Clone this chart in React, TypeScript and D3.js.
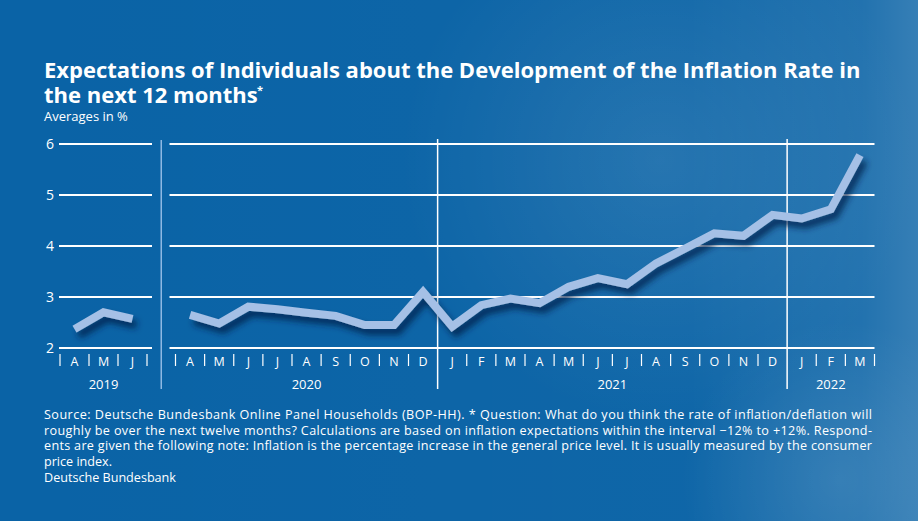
import React from 'react';
import * as d3 from 'd3';

const months2019 = ['A', 'M', 'J'];
const values2019 = [2.37, 2.7, 2.57];

const monthsMain = ['A', 'M', 'J', 'J', 'A', 'S', 'O', 'N', 'D', 'J', 'F', 'M', 'A', 'M', 'J', 'J', 'A', 'S', 'O', 'N', 'D', 'J', 'F', 'M'];
const valuesMain = [2.65, 2.48, 2.81, 2.76, 2.69, 2.63, 2.45, 2.45, 3.1, 2.42, 2.84, 2.97, 2.88, 3.2, 3.37, 3.25, 3.66, 3.95, 4.25, 4.2, 4.61, 4.54, 4.72, 5.78];

// year label, first and last month index in the main segment
const yearsMain: [string, number, number][] = [['2020', 0, 8], ['2021', 9, 20], ['2022', 21, 23]];
const year2019 = '2019';
const yTicks = [2, 3, 4, 5, 6];

const footer = [
  'Source: Deutsche Bundesbank Online Panel Households (BOP-HH). * Question: What do you think the rate of inflation/deflation will',
  'roughly be over the next twelve months? Calculations are based on inflation expectations within the interval \u221212% to +12%. Respond-',
  'ents are given the following note: Inflation is the percentage increase in the general price level. It is usually measured by the consumer',
  'price index.',
];

const W = 918;
const H = 521;
const font = '"Open Sans", "DejaVu Sans", sans-serif';
const lineColor = '#a5c0e6';

const App: React.FC = () => {
  const y = d3.scaleLinear().domain([2, 6]).range([348, 144]);
  const x19 = d3.scaleLinear().domain([-0.5, 2.5]).range([60, 147]);
  const xm = d3.scaleLinear().domain([-0.5, 23.5]).range([175.5, 874.5]);

  const path19 = d3.line<number>().x((_, i) => x19(i)).y(d => y(d))(values2019)!;
  const pathMain = d3.line<number>().x((_, i) => xm(i)).y(d => y(d))(valuesMain)!;

  const sep0 = (x19(2.5) + xm(-0.5)) / 2;
  const seps = [xm(8.5), xm(20.5)];
  const ticksMain = d3.range(-0.5, 24, 1).filter(t => t !== 8.5 && t !== 20.5);
  const ticks19 = d3.range(-0.5, 3, 1);

  return (
    <svg width={W} height={H} style={{ position: 'absolute', left: 0, top: 0, display: 'block' }} fontFamily={font}>
      <defs>
        <linearGradient id="bgH" x1="0" x2="1" y1="0" y2="0">
          <stop offset="0" stopColor="#ffffff" stopOpacity={0} />
          <stop offset="0.75" stopColor="#ffffff" stopOpacity={0.02} />
          <stop offset="0.94" stopColor="#ffffff" stopOpacity={0.1} />
          <stop offset="1" stopColor="#ffffff" stopOpacity={0.18} />
        </linearGradient>
        <radialGradient id="glow" cx="660" cy="160" r="260" gradientUnits="userSpaceOnUse">
          <stop offset="0" stopColor="#ffffff" stopOpacity={0.1} />
          <stop offset="1" stopColor="#ffffff" stopOpacity={0} />
        </radialGradient>
        <radialGradient id="glow2" cx="840" cy="480" r="160" gradientUnits="userSpaceOnUse">
          <stop offset="0" stopColor="#ffffff" stopOpacity={0.1} />
          <stop offset="1" stopColor="#ffffff" stopOpacity={0} />
        </radialGradient>
        <filter id="shadow" x="-10%" y="-30%" width="130%" height="180%">
          <feDropShadow dx="4" dy="6" stdDeviation="3" floodColor="#05234a" floodOpacity={0.8} />
        </filter>
      </defs>

      <rect width={W} height={H} fill="#0a63a6" />
      <rect width={W} height={H} fill="url(#bgH)" />
      <rect width={W} height={H} fill="url(#glow)" />
      <rect width={W} height={H} fill="url(#glow2)" />

      {/* title */}
      <text x={44} y={78} fill="#fff" fontSize={22} fontWeight={700}>
        Expectations of Individuals about the Development of the Inflation Rate in
      </text>
      <text x={44} y={103} fill="#fff" fontSize={22} fontWeight={700}>
        the next 12 months
      </text>
      <text x={257} y={94} fill="#fff" fontSize={11} fontWeight={700}>*</text>
      <text x={44} y={121} fill="#fff" fontSize={13}>Averages in %</text>

      {/* grid */}
      {yTicks.map(t => (
        <g key={t}>
          <line x1={x19(-0.5) - 1} x2={x19(2.5) + 5} y1={y(t)} y2={y(t)} stroke="#fff" strokeWidth={2} />
          <line x1={xm(-0.5) - 6} x2={xm(23.5)} y1={y(t)} y2={y(t)} stroke="#fff" strokeWidth={2} />
          <text x={50} y={y(t)} dy="0.35em" textAnchor="middle" fill="#fff" fontSize={14}>{t}</text>
        </g>
      ))}

      {/* year separators */}
      <line x1={sep0} x2={sep0} y1={140} y2={389} stroke="#8fb9e3" strokeWidth={1.5} />
      {seps.map((s, i) => (
        <line key={i} x1={s} x2={s} y1={139} y2={389} stroke="#fff" strokeWidth={1.5} />
      ))}

      {/* month ticks */}
      {ticks19.map(t => (
        <line key={'t19' + t} x1={x19(t)} x2={x19(t)} y1={354} y2={366} stroke="#fff" strokeWidth={1.2} />
      ))}
      {ticksMain.map(t => (
        <line key={'tm' + t} x1={xm(t)} x2={xm(t)} y1={354} y2={366} stroke="#fff" strokeWidth={1.2} />
      ))}
      {months2019.map((m, i) => (
        <text key={'m19' + i} x={x19(i)} y={366} textAnchor="middle" fill="#fff" fontSize={12.5}>{m}</text>
      ))}
      {monthsMain.map((m, i) => (
        <text key={'mm' + i} x={xm(i)} y={366} textAnchor="middle" fill="#fff" fontSize={12.5}>{m}</text>
      ))}
      <text x={(x19(0) + x19(2)) / 2} y={389} textAnchor="middle" fill="#fff" fontSize={13}>{year2019}</text>
      {yearsMain.map(([yr, a, b]) => (
        <text key={yr} x={(xm(a) + xm(b)) / 2} y={389} textAnchor="middle" fill="#fff" fontSize={13}>{yr}</text>
      ))}

      {/* series */}
      <g filter="url(#shadow)">
        <path d={path19} fill="none" stroke={lineColor} strokeWidth={8} strokeLinejoin="miter" />
        <path d={pathMain} fill="none" stroke={lineColor} strokeWidth={8} strokeLinejoin="miter" />
      </g>

      {/* footer */}
      {footer.map((l, i) => (
        <text
          key={i}
          x={44}
          y={419 + i * 15.6}
          fill="#fff"
          fontSize={12.6}
          textLength={i < 3 ? 828 : undefined}
          lengthAdjust={i < 3 ? 'spacing' : undefined}
        >
          {l}
        </text>
      ))}
      <text x={44} y={482} fill="#fff" fontSize={12.6}>Deutsche Bundesbank</text>
    </svg>
  );
};

export default App;
